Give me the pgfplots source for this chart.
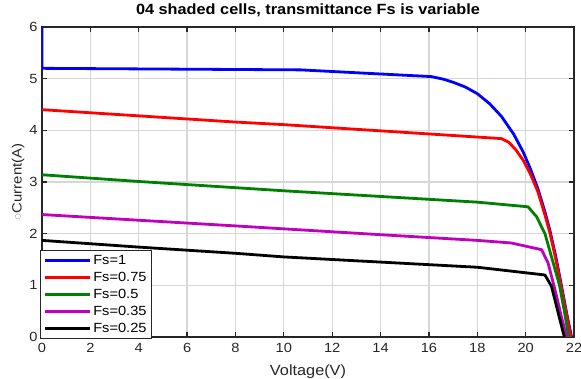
\documentclass[border=0pt]{standalone}
\usepackage{pgfplots}
\pgfplotsset{compat=1.18}
\usepackage{fontspec}
\setmainfont[FakeStretch=1.1]{Liberation Sans}
\definecolor{axgray}{RGB}{38,38,38}
\definecolor{gridgray}{RGB}{215,215,215}
\definecolor{mplblue}{RGB}{0,0,255}
\definecolor{mplred}{RGB}{255,0,0}
\definecolor{mplgreen}{RGB}{0,128,0}
\definecolor{mplmag}{RGB}{191,0,191}
\begin{document}
\begin{tikzpicture}
\begin{axis}[
  scale only axis,
  width=532pt, height=310pt,
  xmin=0, xmax=22, ymin=0, ymax=6,
  xtick={0,2,...,22}, ytick={0,1,...,6},
  grid=major,
  major grid style={gridgray, line width=1.3pt},
  axis line style={axgray, line width=1.3pt},
  major tick style={axgray, line width=1.3pt},
  major tick length=5pt,
  tick align=inside,
  /pgf/number format/assume math mode=true,
  tick label style={font=\fontsize{13.3}{15}\selectfont, text=axgray},
  xticklabel style={yshift=-3pt},
  yticklabel style={xshift=-1pt},
  title={\bfseries 04 shaded cells, transmittance Fs is variable},
  title style={font=\fontsize{14.8}{17}\selectfont, at={(0.5,1)}, anchor=south, yshift=1pt},
  xlabel={Voltage(V)},
  xlabel style={font=\fontsize{14.8}{17}\selectfont, text=axgray, yshift=-5pt},
  ylabel={{\color{gray!70}\scalebox{1.0}{$\circ$}}Current(A)},
  ylabel style={font=\fontsize{13.5}{16}\selectfont, text=axgray, yshift=-2pt},
  legend style={at={(-0.004,-0.006)}, anchor=south west, draw=axgray, line width=0.8pt,
    font=\fontsize{13.3}{15}\selectfont, row sep=2.2pt, inner xsep=3pt, inner ysep=2.5pt,
    legend cell align=left},
  legend image code/.code={\draw[#1, line width=3pt] (0pt,0pt) -- (45pt,0pt);},
  every axis plot/.append style={line width=2.8pt, line join=round},
]
\addplot[mplblue] coordinates {
(0,6.0) (0,5.2) (10.7,5.17) (16.1,5.04) (16.6,4.99) (17.0,4.93) (17.5,4.84) (18.0,4.71)
(18.5,4.52) (19.0,4.27) (19.5,3.93) (19.9,3.58) (20.2,3.25) (20.5,2.88) (20.8,2.42)
(21.0,2.07) (21.25,1.55) (21.5,0.95) (21.7,0.45) (21.9,0.0)};
\addlegendentry{Fs=1}
\addplot[mplred] coordinates {
(0,4.40) (4,4.28) (8,4.16) (10,4.11) (14,3.99) (18,3.87) (19.0,3.84) (19.3,3.77)
(19.6,3.62) (19.9,3.42) (20.2,3.15) (20.5,2.82) (20.8,2.36) (21.0,2.02) (21.25,1.50)
(21.5,0.90) (21.7,0.42) (21.87,0.0)};
\addlegendentry{Fs=0.75}
\addplot[mplgreen] coordinates {
(0,3.14) (4,3.01) (10,2.83) (14,2.72) (18,2.61) (20.1,2.52) (20.45,2.33) (20.8,2.00)
(21.1,1.50) (21.4,1.00) (21.6,0.50) (21.78,0.0)};
\addlegendentry{Fs=0.5}
\addplot[mplmag] coordinates {
(0,2.37) (4,2.26) (8,2.15) (14,1.98) (18,1.87) (19.4,1.82) (20.66,1.69) (20.93,1.43)
(21.28,0.79) (21.5,0.35) (21.7,0.0)};
\addlegendentry{Fs=0.35}
\addplot[black] coordinates {
(0,1.87) (4,1.74) (8,1.62) (10,1.55) (14,1.45) (18,1.35) (18.94,1.30) (20.8,1.20)
(21.07,0.98) (21.35,0.46) (21.6,0.0)};
\addlegendentry{Fs=0.25}
\end{axis}
\pgfresetboundingbox
\path (-42pt,-42pt) rectangle (539pt,337pt);
\end{tikzpicture}
\end{document}
